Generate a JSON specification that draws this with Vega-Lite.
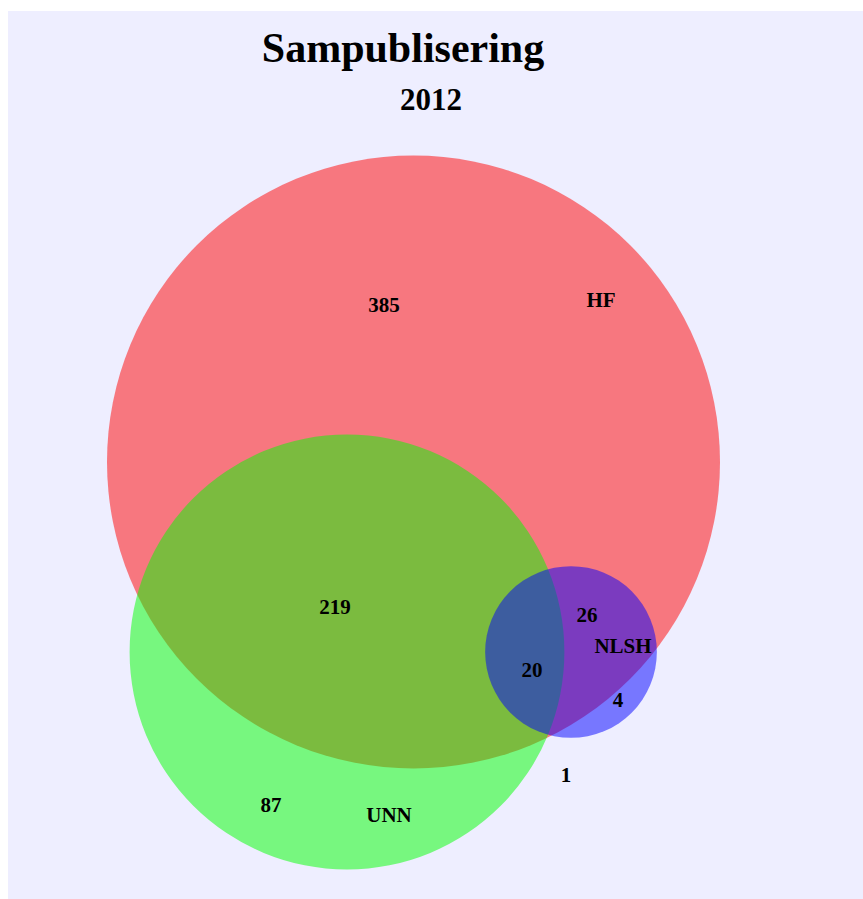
{
  "$schema": "https://vega.github.io/schema/vega-lite/v6.json",
  "width": 855,
  "height": 888,
  "autosize": {"type": "none"},
  "padding": {"left": 8, "top": 11, "right": 0, "bottom": 0},
  "background": "#ffffff",
  "config": {"view": {"fill": "#eeeeff", "stroke": null}},
  "datasets": {
    "sets": [
      {"set": "HF", "cx": 405.5, "cy": 437, "total": 650},
      {"set": "UNN", "cx": 339, "cy": 247, "total": 327},
      {"set": "NLSH", "cx": 563, "cy": 247, "total": 51}
    ],
    "labels": [
      {"text": "385", "x": 376, "y": 587},
      {"text": "HF", "x": 593, "y": 592},
      {"text": "219", "x": 327, "y": 285},
      {"text": "20", "x": 524, "y": 222},
      {"text": "26", "x": 579, "y": 277},
      {"text": "NLSH", "x": 615, "y": 246},
      {"text": "4", "x": 610, "y": 192},
      {"text": "87", "x": 263, "y": 87},
      {"text": "UNN", "x": 381, "y": 77},
      {"text": "1", "x": 558, "y": 117}
    ],
    "titles": [
      {"text": "Sampublisering", "role": "title", "x": 395, "y": 837},
      {"text": "2012", "role": "subtitle", "x": 423, "y": 789}
    ]
  },
  "layer": [
    {
      "data": {"name": "sets"},
      "mark": {"type": "point", "shape": "circle", "filled": true, "opacity": 0.5, "strokeWidth": 0},
      "encoding": {
        "x": {"field": "cx", "type": "quantitative", "scale": {"domain": [0, 855], "nice": false, "zero": false}, "axis": null},
        "y": {"field": "cy", "type": "quantitative", "scale": {"domain": [0, 888], "nice": false, "zero": false}, "axis": null},
        "size": {"field": "total", "type": "quantitative", "scale": {"type": "linear", "domain": [0, 650], "range": [0, 375769], "zero": true}, "legend": null},
        "color": {"field": "set", "type": "nominal", "scale": {"domain": ["HF", "UNN", "NLSH"], "range": ["#ff0000", "#00ff00", "#0000ff"]}, "legend": null},
        "order": {"field": "total", "type": "quantitative", "sort": "descending"}
      }
    },
    {
      "data": {"name": "labels"},
      "mark": {"type": "text", "font": "Liberation Serif", "fontWeight": "bold", "fontSize": 21, "align": "center", "baseline": "alphabetic", "color": "#000000"},
      "encoding": {
        "x": {"field": "x", "type": "quantitative"},
        "y": {"field": "y", "type": "quantitative"},
        "text": {"field": "text"}
      }
    },
    {
      "data": {"name": "titles"},
      "transform": [{"filter": "datum.role === 'title'"}],
      "mark": {"type": "text", "font": "Liberation Serif", "fontWeight": "bold", "fontSize": 42, "align": "center", "baseline": "alphabetic", "color": "#000000"},
      "encoding": {
        "x": {"field": "x", "type": "quantitative"},
        "y": {"field": "y", "type": "quantitative"},
        "text": {"field": "text"}
      }
    },
    {
      "data": {"name": "titles"},
      "transform": [{"filter": "datum.role === 'subtitle'"}],
      "mark": {"type": "text", "font": "Liberation Serif", "fontWeight": "bold", "fontSize": 31, "align": "center", "baseline": "alphabetic", "color": "#000000"},
      "encoding": {
        "x": {"field": "x", "type": "quantitative"},
        "y": {"field": "y", "type": "quantitative"},
        "text": {"field": "text"}
      }
    }
  ]
}
